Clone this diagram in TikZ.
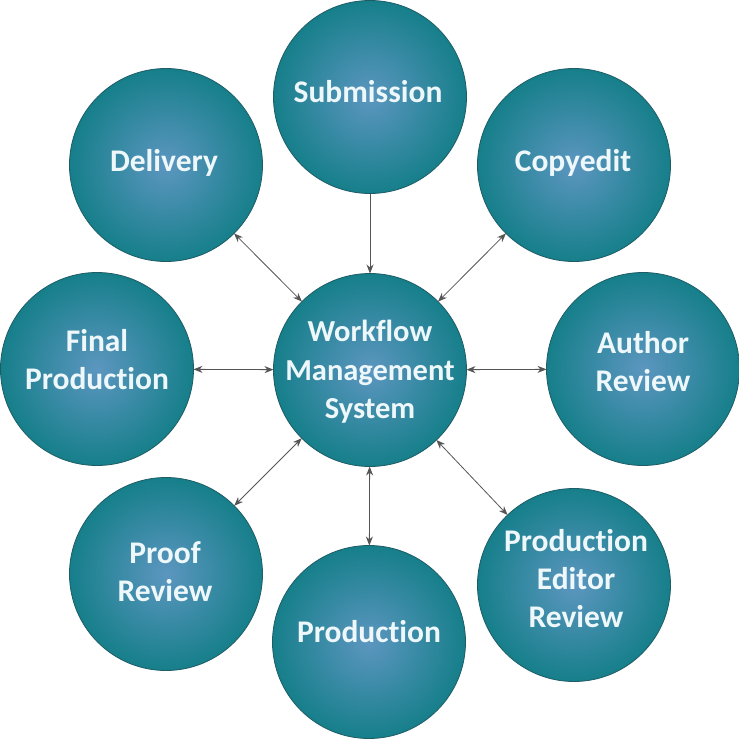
\documentclass[tikz,border=0pt]{standalone}
\usepackage{fontspec}
\setmainfont{Carlito}[Ligatures={NoCommon}]
\usetikzlibrary{arrows.meta}
\definecolor{tealout}{RGB}{22,127,138}
\definecolor{tealin}{RGB}{92,150,192}
\definecolor{tealedge}{RGB}{30,92,102}
\definecolor{txt}{RGB}{238,247,250}
\definecolor{linec}{RGB}{85,85,85}
\tikzset{
  bubble/.style={circle, minimum size=193pt, inner sep=0pt, outer sep=0pt,
    draw=tealedge, line width=0.8pt, shading=radial, inner color=tealin, outer color=tealout},
  lbl/.style={inner sep=0pt, text=txt, font=\fontsize{31.5}{38}\selectfont\bfseries, align=center},
  clbl/.style={lbl, font=\fontsize{30.5}{38.5}\selectfont\bfseries},
  onearrow/.style={draw=linec, line width=0.8pt, -{Stealth[length=9pt,width=7pt]}},
  twoarrow/.style={draw=linec, line width=0.8pt, {Stealth[length=9pt,width=7pt]}-{Stealth[length=9pt,width=7pt]}}
}
\begin{document}
\begin{tikzpicture}[x=1pt,y=-1pt]
\useasboundingbox (0,0) rectangle (739,739);
\node[bubble] (wms) at (370,370) {};
\node[bubble] (sub) at (370,97) {};
\node[bubble] (copy) at (574,165) {};
\node[bubble] (auth) at (643,369) {};
\node[bubble] (per) at (574,585) {};
\node[bubble] (prod) at (369,642) {};
\node[bubble] (proof) at (166,574) {};
\node[bubble] (final) at (97,369) {};
\node[bubble] (deliv) at (166,165) {};
\node[clbl] (wmst) at (370,372) {Workflow\\Management\\System};
\node[lbl] (subt) at (368,92) {Submission};
\node[lbl] (copyt) at (573,163) {Copyedit};
\node[lbl] (autht) at (643,362) {Author\\Review};
\node[lbl] (pert) at (576,579) {Production\\Editor\\Review};
\node[lbl] (prodt) at (369,632) {Production};
\node[lbl] (prooft) at (165,572) {Proof\\Review};
\node[lbl] (finalt) at (97,360) {Final\\Production};
\node[lbl] (delivt) at (164,163) {Delivery};
\draw[onearrow] (sub) -- (wms);
\draw[twoarrow] (wms) -- (copy);
\draw[twoarrow] (wms) -- (auth);
\draw[twoarrow] (wms) -- (per);
\draw[twoarrow] (wms) -- (prod);
\draw[twoarrow] (wms) -- (proof);
\draw[twoarrow] (wms) -- (final);
\draw[twoarrow] (wms) -- (deliv);
\end{tikzpicture}
\end{document}
